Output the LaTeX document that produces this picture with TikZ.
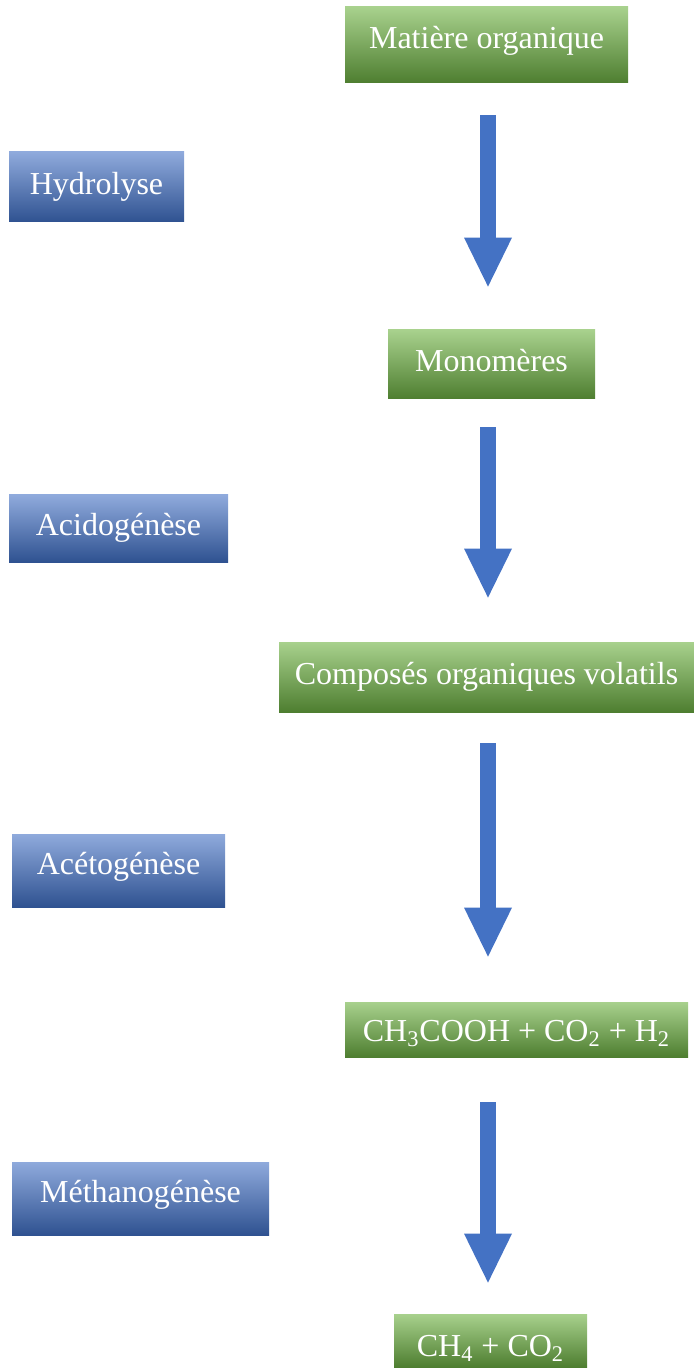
\documentclass[tikz,border=0pt]{standalone}
\usepackage{fontspec}
\setmainfont{Liberation Serif}
\usetikzlibrary{arrows.meta}
\definecolor{gtop}{RGB}{168,209,141}
\definecolor{gmid}{RGB}{112,173,71}
\definecolor{gbot}{RGB}{78,126,48}
\definecolor{btop}{RGB}{143,170,220}
\definecolor{bmid}{RGB}{68,114,196}
\definecolor{bbot}{RGB}{47,82,145}
\definecolor{arrowblue}{RGB}{68,114,196}
\tikzset{
  boxbase/.style={rectangle, inner sep=0pt, text=white, font=\fontsize{16}{19}\selectfont},
  greenbox/.style={boxbase, top color=gtop, middle color=gmid, bottom color=gbot},
  bluebox/.style={boxbase, top color=btop, middle color=bmid, bottom color=bbot},
  bl/.style={text height=#1pt, text depth=0pt},
  flow/.style={draw=arrowblue, line width=8pt,
    -{Triangle[width=24pt,length=24.5pt,line width=0pt,fill=arrowblue]}},
}
\begin{document}
\begin{tikzpicture}[x=0.5pt,y=-0.5pt]
\useasboundingbox (0,0) rectangle (694,1368);
% main chain (green)
\node[greenbox, bl=3.7, minimum width=141.5pt, minimum height=38pt] (m1) at (486.5,45) {Matière organique};
\node[greenbox, bl=7.5, minimum width=103.5pt, minimum height=34.5pt] (m2) at (491.5,364.5) {Monomères};
\node[greenbox, bl=7.3, minimum width=207.5pt, minimum height=35pt] (m3) at (486.5,677) {Composés organiques volatils};
\node[greenbox, bl=11.5, minimum width=171.5pt, minimum height=27.5pt] (m4) at (516.5,1029.5) {CH\textsubscript{3}COOH + CO\textsubscript{2} + H\textsubscript{2}};
\node[greenbox, bl=15.5, minimum width=96.5pt, minimum height=26.5pt] (m5) at (490.5,1340.5) {CH\textsubscript{4} + CO\textsubscript{2}};
% stages (blue)
\node[bluebox, bl=7.5, minimum width=87.5pt, minimum height=35pt] (h1) at (96.5,187) {Hydrolyse};
\node[bluebox, bl=7, minimum width=109.5pt, minimum height=33.5pt] (h2) at (118.5,528.5) {Acidogénèse};
\node[bluebox, bl=4.3, minimum width=106.5pt, minimum height=36.5pt] (h3) at (118.5,870.5) {Acétogénèse};
\node[bluebox, bl=3.8, minimum width=128.5pt, minimum height=36.5pt] (h4) at (140.5,1198.5) {Méthanogénèse};
% arrows
\coordinate (ax) at (488,0);
\draw[flow, shorten <=16pt, shorten >=21.5pt] (m1.south -| ax) -- (m2.north -| ax);
\draw[flow, shorten <=14pt, shorten >=22pt] (m2.south -| ax) -- (m3.north -| ax);
\draw[flow, shorten <=15.5pt, shorten >=22.5pt] (m3.south -| ax) -- (m4.north -| ax);
\draw[flow, shorten <=22.5pt, shorten >=15.5pt] (m4.south -| ax) -- (m5.north -| ax);
\end{tikzpicture}
\end{document}
